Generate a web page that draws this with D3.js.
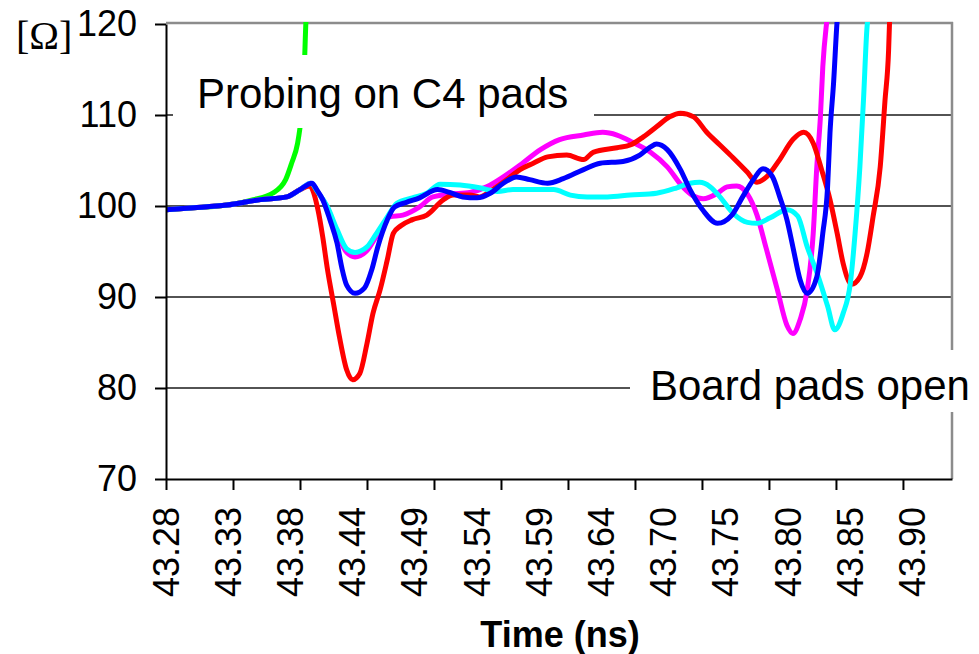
<!DOCTYPE html>
<html>
<head>
<meta charset="utf-8">
<script src="https://cdn.jsdelivr.net/npm/d3@7"></script>
<style>
  body { margin: 0; background: #ffffff; }
  svg text { font-family: "Liberation Sans", Arial, sans-serif; fill: #000; }
</style>
</head>
<body>
<svg id="chart" width="979" height="654"></svg>
<script>
// Impedance (ohm) versus time (ns) for five probing conditions.

const timeLabels = ["43.28", "43.33", "43.38", "43.44", "43.49", "43.54", "43.59",
                    "43.64", "43.70", "43.75", "43.80", "43.85", "43.90"];
const yTickValues = [70, 80, 90, 100, 110, 120];

// [time (ns), impedance (ohm)]
const greenSeries = [
  [43.280, 99.6], [43.303, 99.8], [43.331, 100.1], [43.353, 100.7], [43.369, 101.4],
  [43.380, 102.9], [43.385, 104.7], [43.390, 106.9], [43.392, 108.6], [43.395, 112.2],
  [43.396, 116.6], [43.397, 120.4], [43.398, 122.0]
];

const magentaSeries = [
  [43.280, 99.6], [43.303, 99.8], [43.331, 100.1], [43.359, 100.7], [43.381, 101.0],
  [43.392, 101.8], [43.401, 102.5], [43.407, 101.5], [43.415, 99.8], [43.423, 97.1],
  [43.431, 94.9], [43.438, 94.4], [43.448, 95.1], [43.456, 96.7], [43.467, 98.8],
  [43.478, 99.0], [43.492, 99.9], [43.503, 101.0], [43.517, 101.3], [43.534, 101.5],
  [43.548, 102.1], [43.562, 103.2], [43.576, 104.5], [43.593, 106.2], [43.609, 107.3],
  [43.629, 107.8], [43.645, 108.1], [43.657, 107.8], [43.670, 107.0], [43.685, 105.9],
  [43.699, 104.3], [43.712, 102.1], [43.721, 101.1], [43.729, 100.8], [43.741, 101.4],
  [43.749, 102.1], [43.757, 102.2], [43.766, 101.3], [43.774, 99.0], [43.782, 95.2],
  [43.791, 90.8], [43.799, 86.9], [43.804, 86.0], [43.810, 87.5], [43.816, 90.8],
  [43.821, 97.0], [43.824, 104.3], [43.827, 109.8], [43.829, 115.3], [43.832, 119.9],
  [43.833, 121.0]
];

const redSeries = [
  [43.280, 99.6], [43.303, 99.8], [43.331, 100.1], [43.359, 100.7], [43.381, 101.0],
  [43.392, 101.8], [43.400, 102.2], [43.407, 99.6], [43.411, 96.6], [43.415, 93.0],
  [43.420, 89.3], [43.425, 85.6], [43.431, 82.0], [43.436, 80.9], [43.442, 81.6],
  [43.448, 84.9], [43.453, 88.2], [43.459, 90.8], [43.465, 94.1], [43.470, 97.0],
  [43.476, 97.8], [43.486, 98.5], [43.498, 99.0], [43.512, 100.7], [43.520, 101.2],
  [43.534, 101.2], [43.542, 101.0], [43.553, 101.8], [43.565, 102.9], [43.576, 104.0],
  [43.587, 104.7], [43.599, 105.4], [43.615, 105.6], [43.629, 105.1], [43.637, 105.9],
  [43.657, 106.4], [43.668, 106.7], [43.679, 107.6], [43.690, 108.7], [43.701, 109.8],
  [43.710, 110.2], [43.721, 109.8], [43.732, 108.1], [43.743, 106.7], [43.754, 105.3],
  [43.766, 103.7], [43.774, 102.6], [43.782, 103.2], [43.793, 105.1], [43.804, 107.3],
  [43.813, 108.1], [43.821, 106.9], [43.828, 104.0], [43.835, 100.7], [43.841, 97.0],
  [43.846, 93.7], [43.853, 91.4], [43.860, 92.2], [43.866, 94.8], [43.871, 98.8],
  [43.877, 104.3], [43.881, 111.6], [43.884, 117.1], [43.885, 121.0]
];

const cyanSeries = [
  [43.280, 99.6], [43.303, 99.8], [43.331, 100.1], [43.359, 100.7], [43.381, 101.0],
  [43.392, 101.8], [43.401, 102.5], [43.407, 101.5], [43.415, 99.9], [43.423, 97.4],
  [43.431, 95.3], [43.438, 94.9], [43.448, 95.5], [43.456, 97.0], [43.465, 98.8],
  [43.473, 100.3], [43.486, 100.9], [43.498, 101.4], [43.509, 102.4], [43.526, 102.3],
  [43.542, 102.0], [43.557, 101.6], [43.570, 101.8], [43.590, 101.8], [43.604, 101.8],
  [43.618, 101.2], [43.632, 101.0], [43.649, 101.0], [43.668, 101.2], [43.690, 101.4],
  [43.707, 102.0], [43.718, 102.5], [43.726, 102.6], [43.735, 102.1], [43.743, 101.0],
  [43.754, 99.2], [43.766, 98.2], [43.774, 98.1], [43.785, 98.7], [43.799, 99.6],
  [43.808, 98.9], [43.816, 95.5], [43.824, 92.7], [43.833, 89.0], [43.839, 86.4],
  [43.846, 88.2], [43.852, 91.5], [43.856, 97.0], [43.860, 104.3], [43.863, 111.6],
  [43.866, 119.7], [43.867, 121.0]
];

const blueSeries = [
  [43.280, 99.6], [43.303, 99.8], [43.331, 100.1], [43.359, 100.7], [43.381, 101.0],
  [43.392, 101.8], [43.402, 102.5], [43.406, 101.8], [43.411, 100.7], [43.417, 98.5],
  [43.423, 95.9], [43.427, 93.2], [43.431, 91.3], [43.438, 90.4], [43.446, 91.0],
  [43.452, 93.0], [43.457, 95.5], [43.465, 98.5], [43.471, 99.9], [43.481, 100.4],
  [43.492, 100.9], [43.507, 101.8], [43.517, 101.5], [43.528, 101.0], [43.540, 100.9],
  [43.551, 101.4], [43.562, 102.5], [43.573, 103.2], [43.584, 102.9], [43.599, 102.5],
  [43.612, 103.0], [43.629, 104.0], [43.643, 104.7], [43.662, 104.9], [43.676, 105.6],
  [43.685, 106.5], [43.690, 106.8], [43.699, 106.2], [43.710, 104.0], [43.718, 101.8],
  [43.729, 99.5], [43.741, 98.1], [43.753, 99.0], [43.762, 101.0], [43.771, 102.9],
  [43.779, 104.1], [43.787, 103.2], [43.793, 101.0], [43.799, 98.5], [43.804, 95.5],
  [43.810, 91.9], [43.816, 90.4], [43.824, 92.2], [43.829, 97.0], [43.833, 102.1],
  [43.835, 108.0], [43.838, 113.5], [43.841, 120.4], [43.842, 122.0]
];

// drawn back to front
const seriesList = [
  { data: greenSeries,   color: "#00ff00" },
  { data: magentaSeries, color: "#ff00ff" },
  { data: redSeries,     color: "#ff0000" },
  { data: cyanSeries,    color: "#00ffff" },
  { data: blueSeries,    color: "#0000ff" }
];

const plot = { left: 166, right: 952, top: 24, bottom: 479 };
const labelStep = 0.052;   // ns between time labels
const tickStep = 0.056;    // ns between tick marks
const t0 = 43.28;

const svg = d3.select("#chart");

const x = d3.scaleLinear().domain([t0, 43.937]).range([plot.left, plot.right]);
const y = d3.scaleLinear().domain([70, 120]).range([plot.bottom, plot.top]);

// plot area
svg.append("rect")
  .attr("x", plot.left).attr("y", plot.top)
  .attr("width", plot.right - plot.left).attr("height", plot.bottom - plot.top)
  .attr("fill", "#ffffff");

// horizontal gridlines
svg.append("g").selectAll("line")
  .data([80, 90, 100, 110])
  .join("line")
  .attr("x1", plot.left).attr("x2", plot.right)
  .attr("y1", d => y(d)).attr("y2", d => y(d))
  .attr("stroke", "#1a1a1a").attr("stroke-width", 1.6);

// frame (top and right)
svg.append("line")
  .attr("x1", plot.left).attr("x2", plot.right + 1)
  .attr("y1", plot.top - 1).attr("y2", plot.top - 1)
  .attr("stroke", "#8c8c8c").attr("stroke-width", 2.5);
svg.append("line")
  .attr("x1", plot.right).attr("x2", plot.right)
  .attr("y1", plot.top - 2).attr("y2", plot.bottom)
  .attr("stroke", "#8c8c8c").attr("stroke-width", 2.5);

// curves
svg.append("defs").append("clipPath").attr("id", "plotClip")
  .append("rect")
  .attr("x", plot.left).attr("y", plot.top - 2)
  .attr("width", plot.right - plot.left).attr("height", plot.bottom - plot.top + 2);

const line = d3.line()
  .x(d => x(d[0]))
  .y(d => y(d[1]))
  .curve(d3.curveMonotoneX);

svg.append("g").attr("clip-path", "url(#plotClip)")
  .selectAll("path")
  .data(seriesList)
  .join("path")
  .attr("d", d => line(d.data))
  .attr("fill", "none")
  .attr("stroke", d => d.color)
  .attr("stroke-width", 5)
  .attr("stroke-linejoin", "round")
  .attr("stroke-linecap", "round");

// annotation boxes
svg.append("rect")
  .attr("x", 173).attr("y", 55).attr("width", 421).attr("height", 73)
  .attr("fill", "#ffffff");
svg.append("text")
  .attr("x", 197).attr("y", 108)
  .attr("font-size", 42)
  .text("Probing on C4 pads");

svg.append("rect")
  .attr("x", 630).attr("y", 350).attr("width", 349).attr("height", 62)
  .attr("fill", "#ffffff");
svg.append("text")
  .attr("x", 650).attr("y", 400)
  .attr("font-size", 42)
  .text("Board pads open");

// y axis
const yAxis = svg.append("g")
  .attr("transform", `translate(${plot.left},0)`)
  .call(d3.axisLeft(y).tickValues(yTickValues).tickSize(11).tickSizeOuter(0).tickPadding(18));
yAxis.select(".domain").attr("stroke", "#000").attr("stroke-width", 2);
yAxis.selectAll(".tick line").attr("stroke", "#000").attr("stroke-width", 2);
yAxis.selectAll(".tick text")
  .attr("font-size", 36)
  .attr("font-family", "Liberation Sans, Arial, sans-serif")
  .attr("fill", "#000");

// x axis: tick marks
const tickTimes = d3.range(0, 12).map(i => t0 + i * tickStep);
const xAxis = svg.append("g")
  .attr("transform", `translate(0,${plot.bottom})`)
  .call(d3.axisBottom(x).tickValues(tickTimes).tickSize(11).tickSizeOuter(0).tickFormat(""));
xAxis.select(".domain").attr("stroke", "#000").attr("stroke-width", 2);
xAxis.selectAll(".tick line").attr("stroke", "#000").attr("stroke-width", 2);

// x axis: rotated time labels
svg.append("g").selectAll("text")
  .data(timeLabels)
  .join("text")
  .attr("transform", (d, i) => `translate(${x(t0 + i * labelStep)},507) rotate(-90)`)
  .attr("text-anchor", "end")
  .attr("dy", "0.35em")
  .attr("font-size", 36)
  .text(d => d);

// axis titles
svg.append("text")
  .attr("x", 560).attr("y", 647)
  .attr("text-anchor", "middle")
  .attr("font-size", 36)
  .attr("font-weight", "bold")
  .text("Time (ns)");

svg.append("text")
  .attr("x", 16).attr("y", 49)
  .attr("font-size", 40)
  .style("font-family", "'Liberation Serif', 'Times New Roman', serif")
  .text("[Ω]");
</script>
</body>
</html>
